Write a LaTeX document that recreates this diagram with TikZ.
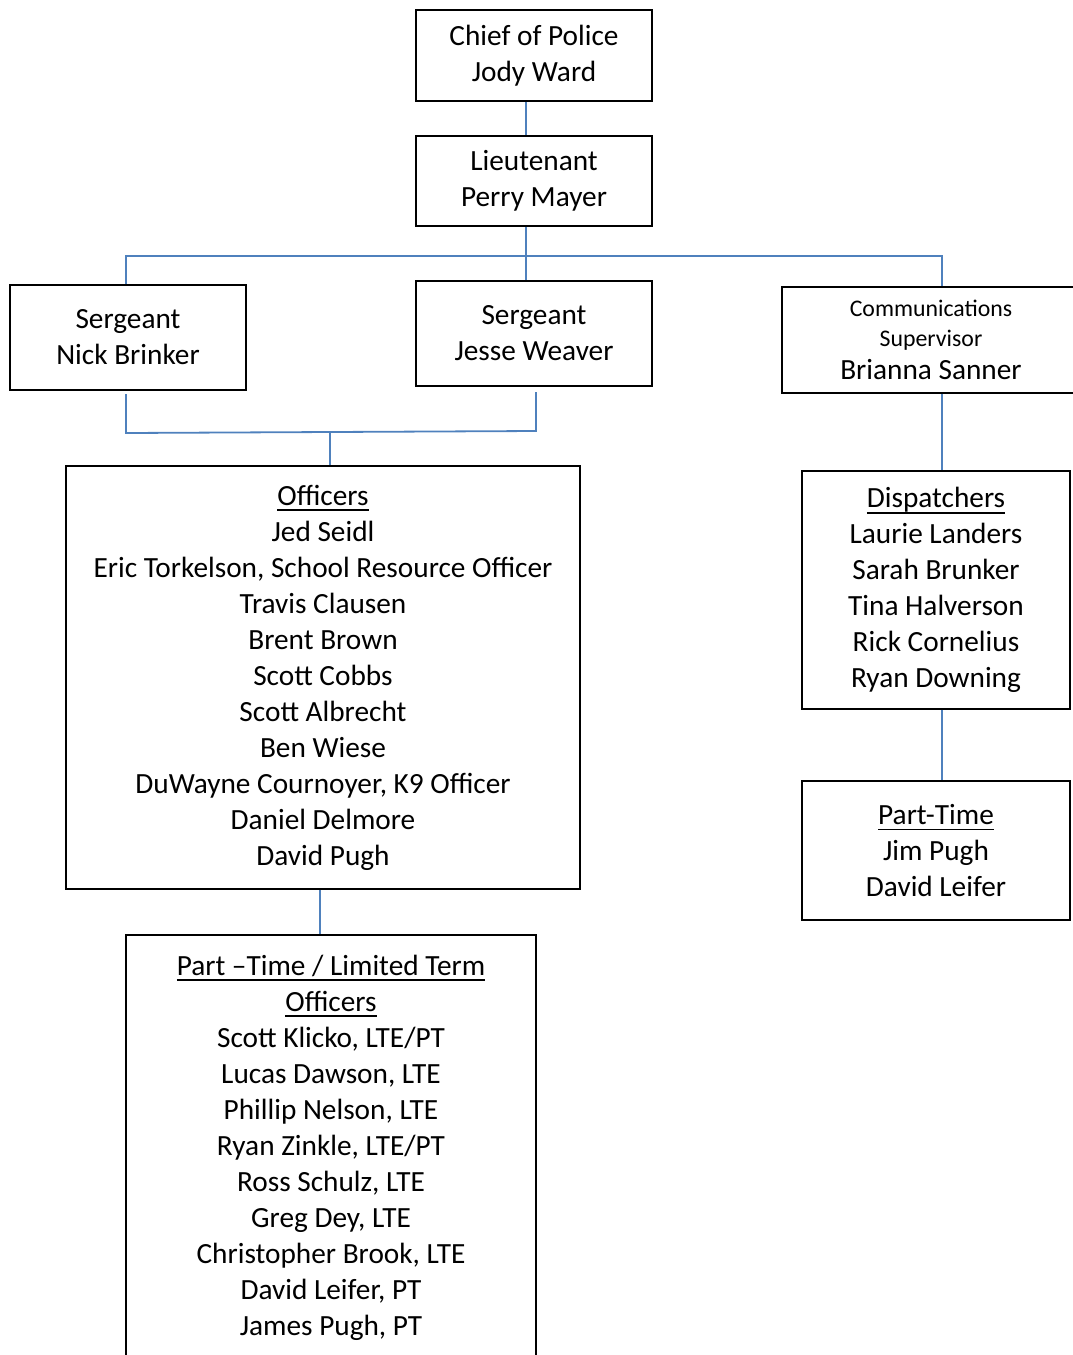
\documentclass[tikz,border=0pt]{standalone}
\usepackage{fontspec}
\setmainfont{Carlito}
\definecolor{linkblue}{RGB}{79,129,189}
\newcommand{\ulbox}[1]{\setbox0\hbox{#1}\rlap{\rule[-6pt]{\wd0}{1.8pt}}\box0}
\begin{document}
\begin{tikzpicture}[x=1pt,y=-1pt,
  unit/.style={draw, line width=1.8pt, inner sep=0pt, align=center, font=\fontsize{29.3}{36}\selectfont},
  link/.style={draw=linkblue, line width=1.8pt}]
\useasboundingbox (0,0) rectangle (1073,1355);
\node[unit, minimum width=236pt, minimum height=91pt] (chief) at (534,55.5) {Chief of Police\\Jody Ward};
\node[unit, minimum width=236pt, minimum height=90pt] (lieut) at (534,181) {Lieutenant\\Perry Mayer};
\node[unit, minimum width=236pt, minimum height=105pt] (nick) at (128,337.5) {Sergeant\\Nick Brinker};
\node[unit, minimum width=236pt, minimum height=105pt] (jesse) at (534,333.5) {Sergeant\\Jesse Weaver};
\node[unit, minimum width=298pt, minimum height=106pt] (comm) at (931,340) {{\fontsize{23.8}{30}\selectfont Communications}\\[-6pt]{\fontsize{23.8}{30}\selectfont Supervisor}\\[-3pt]Brianna Sanner};
\node[unit, minimum width=514pt, minimum height=423pt] (officers) at (323,677.5) {\ulbox{Officers}\\Jed Seidl\\Eric Torkelson, School Resource Officer\\Travis Clausen\\Brent Brown\\Scott Cobbs\\Scott Albrecht\\Ben Wiese\\DuWayne Cournoyer, K9 Officer\\Daniel Delmore\\David Pugh};
\node[unit, minimum width=268pt, minimum height=238pt] (disp) at (936,590) {\ulbox{Dispatchers}\\Laurie Landers\\Sarah Brunker\\Tina Halverson\\Rick Cornelius\\Ryan Downing};
\node[unit, minimum width=268pt, minimum height=139pt] (parttime) at (936,850.5) {\ulbox{Part-Time}\\Jim Pugh\\David Leifer};
\node[unit, minimum width=410pt, minimum height=425pt] (lte) at (331,1147.5) {\ulbox{Part –Time / Limited Term}\\\ulbox{Officers}\\Scott Klicko, LTE/PT\\Lucas Dawson, LTE\\Phillip Nelson, LTE\\Ryan Zinkle, LTE/PT\\Ross Schulz, LTE\\Greg Dey, LTE\\Christopher Brook, LTE\\David Leifer, PT\\James Pugh, PT};
% columns of the connectors
\coordinate (topcol) at (526,0);
\coordinate (busL) at (126,256);
\coordinate (busR) at (942,256);
\coordinate (nickdrop) at (126,394);
\coordinate (jessedrop) at (536,392);
\coordinate (mergeL) at (126,433);
\coordinate (mergeR) at (536,431);
\coordinate (mergeC) at (330,432);
\coordinate (lowcol) at (320,0);
\draw[link] (topcol |- chief.south) -- (topcol |- lieut.north);
\draw[link] (topcol |- lieut.south) -- (topcol |- jesse.north);
\draw[link] (busL |- nick.north) -- (busL) -- (busR) -- (busR |- comm.north);
\draw[link] (nickdrop) -- (mergeL) -- (mergeR) -- (jessedrop);
\draw[link] (mergeC) -- (mergeC |- officers.north);
\draw[link] (busR |- comm.south) -- (busR |- disp.north);
\draw[link] (busR |- disp.south) -- (busR |- parttime.north);
\draw[link] (lowcol |- officers.south) -- (lowcol |- lte.north);
\end{tikzpicture}
\end{document}
